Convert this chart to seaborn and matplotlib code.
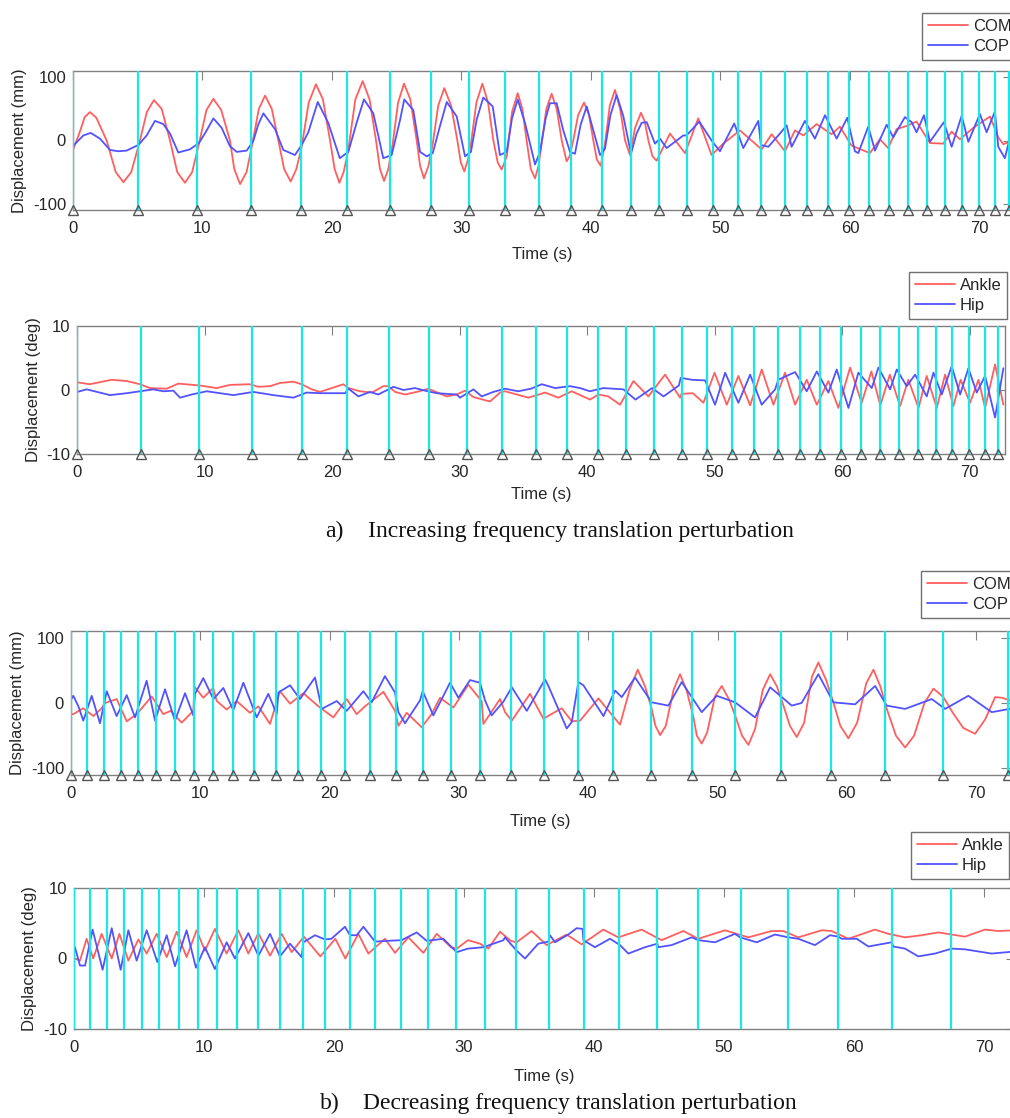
import numpy as np
import pandas as pd
import matplotlib
matplotlib.use("Agg")
import matplotlib.pyplot as plt
import seaborn as sns

# ---------------- data ----------------
# perturbation onsets (stems)
stems_inc = [0, 5.02, 9.58, 13.75, 17.61, 21.16, 24.48, 27.64, 30.58, 33.36, 35.98, 38.46,
             40.85, 43.09, 45.25, 47.41, 49.42, 51.35, 53.13, 54.98, 56.68, 58.30, 59.92,
             61.47, 63.01, 64.48, 65.95, 67.34, 68.65, 69.96, 71.20, 72.25]
stems_dec = [0, 1.26, 2.55, 3.84, 5.21, 6.57, 8.04, 9.51, 11.0, 12.55, 14.18, 15.83, 17.58,
             19.33, 21.21, 23.12, 25.13, 27.25, 29.41, 31.65, 34.03, 36.56, 39.19, 41.92,
             44.86, 48.0, 51.33, 54.91, 58.78, 62.95, 67.46, 72.44]

# a) increasing frequency - COM (mm)
com_a_t = [0.0, 0.5, 0.9, 1.31, 1.8, 2.6, 3.3, 3.89, 4.5, 5.17, 5.7, 6.25, 6.85, 7.49, 8.05, 8.65,
           9.2, 9.73, 10.3, 10.84, 11.45, 12.12, 12.45, 12.9, 13.4, 13.85, 14.35, 14.83, 15.35,
           15.86, 16.3, 16.81, 17.25, 17.66, 18.2, 18.76, 19.3, 19.85, 20.2, 20.57, 20.9, 21.26,
           21.8, 22.37, 22.9, 23.4, 23.7, 24.02, 24.35, 24.69, 25.1, 25.56, 26.05, 26.54, 26.8,
           27.1, 27.45, 27.78, 28.2, 28.67, 29.2, 29.68, 29.95, 30.22, 30.5, 30.73, 31.15, 31.61,
           32.05, 32.46, 32.8, 33.1, 33.5, 33.9, 34.34, 34.7, 35.03, 35.35, 35.68, 35.95, 36.19,
           36.55, 36.96, 37.35, 37.74, 38.12, 38.35, 38.63, 39.0, 39.46, 39.85, 40.18, 40.45,
           40.75, 41.08, 41.45, 41.85, 42.25, 42.63, 43.01, 43.4, 43.86, 44.15, 44.43, 44.75,
           45.07, 46.1, 47.26, 48.28, 49.31, 50.21, 51.5, 53.18, 53.95, 54.98, 55.75, 56.4,
           57.42, 58.58, 59.22, 60.12, 61.54, 62.31, 62.95, 63.6, 64.37, 65.14, 66.17, 67.2,
           67.85, 68.49, 69.52, 70.81, 71.45, 71.84, 72.5]
com_a_y = [-15, 12, 37, 45, 36, 0, -50, -66, -50, 0, 45, 64, 50, 0, -50, -67,
           -50, -5, 48, 66, 48, 0, -45, -69, -50, -5, 50, 71, 50,
           0, -45, -65, -45, -10, 60, 89, 65, 0, -45, -67, -50, -15,
           65, 94, 65, 0, -45, -64, -45, -5, 60, 90, 65, 0, -40,
           -60, -40, -5, 55, 83, 55, 0, -35, -49, -30, -5, 60, 90,
           60, 0, -35, -46, -25, 45, 75, 50, 0, -45, -60, -40, -5,
           50, 74, 50, 0, -33, -25, 0, 40, 60, 40, 0, -30,
           -40, -5, 55, 80, 50, 0, -23, 20, 44, 30, 0, -25,
           -32, 11, -20, 35, -23, -5, 16, -14, 10, -17, 16, 8,
           26, 10, 22, -8, -20, 2, -12, 18, 23, 30, -4, -5,
           14, 2, 20, 38, 5, -6, 0]

# a) increasing frequency - COP (mm)
cop_a_t = [0.08, 0.8, 1.37, 2.08, 2.86, 3.5, 4.14, 5.05, 5.69, 6.33, 6.97, 7.49, 8.13, 9.03, 9.73,
           10.27, 10.84, 11.48, 12.12, 12.64, 13.41, 13.92, 14.3, 14.7, 15.6, 16.24, 17.14, 17.66,
           18.17, 18.9, 19.71, 20.6, 21.26, 21.9, 22.47, 23.19, 23.96, 24.61, 25.25, 25.58, 26.28,
           26.8, 27.31, 27.78, 28.34, 28.86, 29.63, 30.27, 30.73, 31.17, 31.68, 32.41, 32.97,
           33.49, 33.9, 34.34, 34.9, 35.68, 36.06, 36.5, 36.83, 37.35, 37.86, 38.38, 38.76, 39.2,
           39.67, 40.18, 40.7, 41.08, 41.5, 41.98, 42.49, 43.09, 43.5, 43.91, 44.3, 44.94, 45.32,
           45.84, 47.13, 47.38, 48.36, 49.31, 49.96, 51.06, 51.76, 52.92, 53.12, 53.69, 54.59,
           55.11, 55.49, 56.52, 57.29, 58.07, 58.97, 59.79, 60.38, 60.64, 61.41, 61.93, 62.83,
           63.34, 64.24, 64.76, 65.14, 65.71, 66.17, 67.25, 67.85, 68.62, 69.14, 70.03, 70.55,
           71.19, 71.45, 71.96, 72.5]
cop_a_y = [-7, 8, 12, 3, -15, -17, -16, -7, 8, 31, 26, 11, -19, -14, -4,
           14, 35, 20, -9, -18, -16, -1, 25, 43, 18, -15, -23, -7,
           13, 61, 28, -28, -18, 28, 65, 43, -28, -23, 32, 65, 48,
           -18, -25, -20, 23, 61, 38, -25, -18, 33, 68, 54, -23,
           -18, 35, 65, 28, -38, -18, 35, 59, 59, 16, -18, -21, 25,
           54, 16, -23, -13, 40, 72, 39, -21, 10, 28, 29, -5, 3,
           -12, 8, 8, 30, 0, -17, 27, -12, 31, -7, -10, 11,
           24, -10, 31, 3, 40, 3, 36, -17, -20, 22, -16, 25,
           5, 37, 29, 13, 40, -2, 29, -10, 39, -2, 42, 13,
           46, -10, -28, 18]

# a) increasing frequency - Ankle / Hip (deg)
ank_a_t = [0.02, 1.0, 2.72, 3.9, 4.94, 5.72, 7.03, 7.95, 9.64, 10.95, 12.0, 13.57, 14.22, 15.14,
           15.92, 16.97, 17.62, 18.41, 19.06, 19.98, 20.89, 21.29, 22.2, 23.12, 24.03, 24.42,
           24.95, 25.73, 26.64, 27.56, 28.99, 29.78, 30.43, 31.09, 32.39, 33.18, 33.57, 35.4,
           36.71, 37.75, 38.8, 40.24, 40.89, 41.67, 42.59, 43.64, 44.81, 46.12, 47.3, 47.4, 48.3,
           49.13, 50.0, 50.96, 51.87, 52.79, 53.7, 54.62, 55.53, 56.32, 57.23, 58.02, 58.93,
           59.71, 60.63, 61.54, 62.3, 63.0, 63.75, 64.55, 65.2, 66.0, 66.64, 67.43, 68.08, 68.73,
           69.3, 70.04, 70.7, 71.22, 72.0, 72.65]
ank_a_y = [1.2, 0.9, 1.6, 1.4, 0.9, 0.3, 0.2, 1.0, 0.7, 0.3, 0.8, 0.9, 0.5, 0.6,
           1.1, 1.3, 0.9, 0.1, -0.3, 0.3, 0.9, 0.3, -0.2, -0.4, 0.6, 0.6,
           -0.3, -0.7, -0.3, 0.2, -1.0, -0.7, -0.1, -1.1, -1.8, -0.4, -0.2, -1.2,
           -0.4, -1.2, -0.2, -1.5, -0.7, -1.0, -2.3, 1.4, -1.0, 2.4, -1.2, -0.6, -0.5,
           -2.0, 2.7, -2.3, 2.2, -2.4, 3.2, -2.3, 2.7, -2.3, 1.6, -2.3, 1.4,
           -2.8, 3.5, -2.0, 2.9, -2.4, 2.4, -2.5, 1.6, -2.8, 2.2, -2.8, 2.4, -2.5,
           1.6, -2.0, 1.6, -2.8, 4.0, -2.3]
hip_a_t = [0.02, 0.76, 2.59, 3.9, 4.94, 5.99, 6.77, 7.56, 8.08, 9.0, 10.17, 12.26, 13.83, 15.4,
           16.97, 18.01, 19.06, 21.02, 21.29, 22.07, 22.98, 23.63, 24.82, 25.6, 26.51, 27.29,
           28.21, 29.78, 30.04, 31.09, 31.74, 32.65, 33.57, 34.6, 35.6, 36.45, 37.5, 38.66,
           39.45, 40.23, 41.28, 42.85, 43.8, 45.1, 46.0, 47.2, 47.35, 48.21, 49.26, 50.04, 50.83,
           51.87, 52.79, 53.7, 54.75, 55.0, 56.32, 57.23, 58.02, 58.93, 59.58, 60.5, 61.28,
           62.33, 62.85, 63.77, 64.29, 65.07, 65.73, 66.64, 67.17, 67.82, 68.6, 69.26, 69.91,
           70.56, 71.22, 72.0, 72.65]
hip_a_y = [-0.3, 0.1, -0.8, -0.5, -0.2, 0.1, -0.2, -0.1, -1.2, -0.7, -0.2, -0.8, -0.3, -0.8,
           -1.2, -0.4, -0.5, -0.5, 0.2, -1.0, -0.3, -0.7, 0.5, 0.0, 0.3, -0.1,
           -0.5, -0.7, -1.2, 0.1, -1.0, -0.3, 0.2, -0.2, 0.2, 0.9, 0.3, 0.6,
           0.3, -0.2, 0.3, 0.1, -1.5, 0.3, -1.0, 0.7, 1.9, 1.6, 1.5, -2.3, 2.7,
           -2.0, 2.4, -2.3, 0.1, 1.6, 2.8, -0.2, 2.9, -0.4, 3.2, -2.8, 2.7,
           0.3, 3.5, 0.1, 3.2, 0.6, 2.4, -1.0, 2.7, -0.7, 3.7, -0.7, 3.4,
           -0.4, 2.2, -4.3, 3.4]

# b) decreasing frequency - COM / COP (mm)
com_b_t = [0.0, 0.18, 0.95, 1.73, 2.37, 2.63, 3.53, 4.31, 5.08, 6.24, 7.14, 7.7, 8.56, 9.46, 9.55,
           10.23, 11.0, 11.27, 12.04, 12.81, 13.84, 14.49, 15.39, 16.16, 16.94, 17.97, 19.13,
           20.29, 21.32, 22.09, 22.74, 24.16, 25.06, 25.32, 25.96, 27.12, 27.89, 28.54, 29.57,
           30.73, 31.76, 31.89, 33.18, 33.57, 34.09, 35.5, 36.53, 37.95, 38.73, 39.37, 40.79,
           42.08, 42.46, 43.2, 43.83, 44.4, 44.91, 45.2, 45.56, 46.0, 46.6, 47.1, 47.6, 48.14,
           48.4, 48.78, 49.2, 49.8, 50.33, 50.9, 51.36, 51.9, 52.39, 52.9, 53.5, 54.07, 54.6,
           55.1, 55.6, 56.13, 56.7, 57.3, 57.8, 58.4, 58.96, 59.5, 60.12, 60.8, 61.5, 62.06,
           62.6, 63.09, 63.8, 64.51, 65.2, 66.0, 66.7, 67.47, 68.2, 69.0, 69.92, 70.7, 71.47,
           72.0, 72.6]
com_b_y = [-17, -17, -8, -20, -8, 0, 6, -28, -17, 10, -17, -12, -30, -12, 25,
           8, 23, 3, -10, 3, -15, -5, -32, 18, -1, 15, -5,
           -22, 6, -17, -5, 17, -12, -35, -15, -37, -17, 8, -7,
           28, 3, -32, 6, -14, -27, 14, -24, -8, -28, -27, 7,
           -24, -33, 20, 51, 25, -9, -35, -49, -35, 20, 44, 20, -22,
           -50, -62, -45, 10, 26, 5, -19, -50, -64, -40, 20, 44, 25,
           -4, -35, -52, -30, 40, 62, 35, 1, -35, -54, -30, 30, 51,
           25, -9, -50, -68, -50, 0, 22, 9, -15, -38, -47, -25, 9,
           8, 4]
cop_b_t = [0.0, 0.18, 0.57, 0.95, 1.6, 2.24, 2.76, 3.53, 4.31, 4.95, 5.85, 6.5, 7.27, 8.04, 8.82,
           9.46, 9.59, 10.23, 11.01, 11.78, 12.55, 13.33, 14.36, 15.26, 15.91, 16.04, 16.94,
           17.71, 18.87, 19.39, 20.55, 21.32, 22.61, 23.25, 24.28, 25.06, 25.32, 25.83, 26.99,
           27.2, 28.02, 28.93, 29.31, 29.96, 30.86, 31.63, 32.02, 32.53, 33.44, 34.09, 35.25,
           36.66, 36.92, 38.34, 38.73, 39.24, 39.63, 41.18, 42.08, 42.59, 43.62, 44.91, 46.2,
           47.23, 48.78, 49.94, 51.36, 52.9, 54.07, 54.97, 55.74, 56.5, 57.8, 58.96, 60.64,
           62.19, 63.09, 64.51, 66.57, 67.6, 69.4, 71.21, 72.6]
cop_b_y = [5, 11, -5, -27, 11, -31, 18, -20, 12, -22, 34, -27, 21, -27, 15,
           -19, 14, 38, 6, 23, -11, 31, -22, 14, -17, 16, 27,
           6, 39, -9, 3, -12, 18, 1, 41, 16, -14, -31, 4,
           18, -19, 16, 31, 8, 35, 31, 4, -19, 2, 24, -12,
           36, 26, -39, -29, 32, 27, -20, 19, 9, 39, 1, -4,
           32, -14, 11, 1, -22, 24, 9, -4, 0, 44, 1, -2,
           26, -4, -9, 6, -9, 11, -14, -9]

# b) decreasing frequency - Ankle / Hip (deg)
ank_b_t = [0.07, 0.46, 0.97, 1.48, 2.13, 2.9, 3.49, 4.18, 4.95, 5.59, 6.36, 7.13, 7.9, 8.66, 9.43,
           10.07, 10.84, 11.74, 12.64, 13.41, 14.18, 15.08, 15.97, 16.74, 17.68, 18.95, 20.1,
           20.87, 21.87, 22.64, 23.92, 24.69, 25.72, 26.87, 27.9, 29.0, 29.44, 30.3, 31.23, 31.87,
           32.77, 33.6, 34.05, 35.2, 36.36, 37.89, 39.05, 40.71, 41.87, 43.66, 45.2, 46.87,
           48.02, 50.07, 51.87, 53.66, 54.56, 55.71, 57.51, 58.28, 59.56, 61.6, 62.64, 63.92,
           65.2, 66.48, 67.51, 68.53, 70.07, 71.1, 72.4]
ank_b_y = [0.0, -0.3, 2.8, 0.0, 3.5, 0.0, 3.5, -0.3, 2.7, 0.7, 3.5, 0.2, 3.8, 0.2, 4.0,
           1.1, 4.2, 0.7, 4.0, 0.7, 3.6, 0.4, 3.5, 0.9, 3.1, 0.3, 2.8,
           0.0, 3.5, 0.7, 2.8, 0.8, 3.0, 0.8, 3.5, 1.6, 1.4, 2.6, 2.1, 1.4,
           3.8, 2.5, 2.3, 3.9, 1.9, 3.4, 2.0, 4.1, 3.0, 4.1, 2.6, 3.9,
           2.8, 4.0, 3.0, 3.9, 3.9, 3.0, 4.0, 3.9, 2.8, 4.1, 3.5, 3.0,
           3.3, 3.7, 3.4, 3.1, 4.1, 3.9, 4.0]
hip_b_t = [0.07, 0.46, 0.85, 1.43, 2.2, 2.9, 3.59, 4.18, 4.82, 5.59, 6.41, 7.13, 7.77, 8.66, 9.38,
           10.07, 10.84, 11.74, 12.38, 13.41, 14.18, 15.08, 15.84, 16.61, 17.51, 17.64, 18.54,
           19.3, 19.8, 20.84, 21.23, 21.74, 22.26, 22.9, 23.15, 24.1, 25.2, 26.36, 27.13, 28.41,
           29.43, 30.3, 31.49, 33.03, 33.15, 34.05, 34.69, 35.71, 36.5, 36.61, 37.0, 38.02,
           38.66, 39.12, 39.18, 40.07, 41.23, 42.0, 42.64, 43.92, 44.87, 44.94, 45.97, 47.51,
           48.02, 49.3, 50.84, 51.23, 52.51, 53.92, 54.95, 55.71, 56.99, 58.15, 58.79, 59.05,
           60.2, 61.1, 62.89, 63.02, 63.92, 64.94, 66.23, 67.51, 68.53, 69.56, 70.58, 72.4]
hip_b_y = [1.6, -1.0, -1.0, 4.1, -1.6, 4.3, -1.6, 4.0, -0.3, 4.0, -0.5, 3.3, -1.1, 4.0, -1.3,
           1.6, -1.5, 2.3, 0.0, 3.6, 0.4, 3.5, 0.3, 2.1, 0.2, 2.3, 3.3,
           2.7, 2.8, 4.5, 3.3, 3.3, 4.5, 3.0, 2.4, 2.5, 2.6, 3.7, 2.5, 2.8,
           0.9, 1.4, 1.6, 2.6, 3.0, 1.1, 0.0, 2.1, 2.4, 3.3, 2.3, 3.4,
           4.3, 4.2, 2.6, 1.6, 2.8, 1.9, 0.7, 1.6, 2.1, 1.6, 1.9, 3.0,
           2.6, 2.3, 3.5, 3.0, 2.3, 3.4, 3.0, 2.8, 1.9, 3.3, 3.1, 2.8,
           2.8, 1.7, 2.3, 1.7, 1.4, 0.3, 0.7, 1.4, 1.3, 1.0, 0.7, 1.0]

xticks = [0, 10, 20, 30, 40, 50, 60, 70]

# ---------------- style ----------------
sns.set_theme(style="white")
plt.rcParams['font.family'] = ['Liberation Sans', 'DejaVu Sans']

W, H = 1010, 1118
fig = plt.figure(figsize=(W / 100, H / 100), dpi=100)
fig.patch.set_facecolor('white')

RED = '#ff5f5f'
BLUE = '#5252ff'
CYAN = '#19e8e8'
GRAY = '#808080'
TXT = '#262626'


def rect(l, r, t, b):
    return [l / W, 1 - b / H, (r - l) / W, (b - t) / H]


panels = [
    dict(rect=rect(73, 1012, 71, 210), xmax=72.51, ylim=(-110, 110), yticks=[-100, 0, 100],
         ylabel='Displacement (mm)', stems=stems_inc, tri=True,
         s1=(com_a_t, com_a_y, 'COM'), s2=(cop_a_t, cop_a_y, 'COP'),
         leg=(922, 13), ylx=20, xlp=8),
    dict(rect=rect(77, 1005, 326, 454), xmax=72.78, ylim=(-10, 10), yticks=[-10, 0, 10],
         ylabel='Displacement (deg)', stems=stems_inc, tri=True,
         s1=(ank_a_t, ank_a_y, 'Ankle'), s2=(hip_a_t, hip_a_y, 'Hip'),
         leg=(909, 272), ylx=34, xlp=5),
    dict(rect=rect(71, 1010, 631, 775), xmax=72.62, ylim=(-110, 110), yticks=[-100, 0, 100],
         ylabel='Displacement (mm)', stems=stems_dec, tri=True,
         s1=(com_b_t, com_b_y, 'COM'), s2=(cop_b_t, cop_b_y, 'COP'),
         leg=(921, 571), ylx=18, xlp=9),
    dict(rect=rect(74, 1015, 888, 1029), xmax=72.38, ylim=(-10, 10), yticks=[-10, 0, 10],
         ylabel='Displacement (deg)', stems=stems_dec, tri=False,
         s1=(ank_b_t, ank_b_y, 'Ankle'), s2=(hip_b_t, hip_b_y, 'Hip'),
         leg=(911, 832), ylx=30, xlp=10),
]

for p in panels:
    ax = fig.add_axes(p['rect'])
    ax.set_facecolor('white')
    t1, y1, n1 = p['s1']
    t2, y2, n2 = p['s2']
    d1 = pd.DataFrame({'t': t1, 'v': y1})
    d2 = pd.DataFrame({'t': t2, 'v': y2})
    sns.lineplot(data=d1, x='t', y='v', ax=ax, color=RED, lw=1.3, sort=False,
                 estimator=None, label=n1, zorder=2)
    sns.lineplot(data=d2, x='t', y='v', ax=ax, color=BLUE, lw=1.3, sort=False,
                 estimator=None, label=n2, zorder=2)
    for s in p['stems']:
        ax.axvline(s, color=CYAN, lw=1.6, zorder=3)
    ax.set_xlim(0, p['xmax'])
    ax.set_ylim(*p['ylim'])
    if p['tri']:
        ax.plot(p['stems'], [p['ylim'][0]] * len(p['stems']), linestyle='none', marker='^',
                ms=7.5, mfc='none', mec='#555555', mew=1.0, clip_on=False, zorder=5)
    ax.set_xticks(xticks)
    ax.set_yticks(p['yticks'])
    ax.set_xticklabels([str(v) for v in xticks])
    ax.set_yticklabels([str(v) for v in p['yticks']])
    ax.tick_params(axis='both', which='both', direction='in', length=6.5, width=0.8,
                   color=GRAY, labelsize=12, labelcolor=TXT, top=True, right=True)
    ax.tick_params(axis='x', pad=8)
    ax.tick_params(axis='y', pad=5)
    for sp in ax.spines.values():
        sp.set_visible(True)
        sp.set_color(GRAY)
        sp.set_linewidth(1.0)
    ax.set_xlabel('Time (s)', fontsize=12, color=TXT, labelpad=p['xlp'])
    ax.set_ylabel(p['ylabel'], fontsize=12, color=TXT)
    l, b, w, h = p['rect']
    x_px_left = l * W
    ax.yaxis.set_label_coords((p['ylx'] + 7 - x_px_left) / (w * W), 0.5)
    handles, labels = ax.get_legend_handles_labels()
    lx, ly = p['leg']
    ax.legend(handles, labels, loc='upper left', bbox_to_anchor=(lx / W, 1 - ly / H),
              bbox_transform=fig.transFigure, frameon=True, fancybox=False,
              edgecolor='#707070', framealpha=1, fontsize=12, handlelength=2.4,
              handletextpad=0.3, borderpad=0.35, labelspacing=0.3, borderaxespad=0)
    ax.get_legend().get_frame().set_linewidth(1.0)

cap_font = ['Liberation Serif', 'DejaVu Serif']
CAP = 17
fig.text(325 / W, 1 - 531 / H, 'a)', fontsize=CAP, family=cap_font, va='center', ha='left',
         color='#111111')
fig.text(368 / W, 1 - 531 / H, 'Increasing frequency translation perturbation', fontsize=CAP,
         family=cap_font, va='center', ha='left', color='#111111')
fig.text(320 / W, 1 - 1103 / H, 'b)', fontsize=CAP, family=cap_font, va='center', ha='left',
         color='#111111')
fig.text(363 / W, 1 - 1103 / H, 'Decreasing frequency translation perturbation', fontsize=CAP,
         family=cap_font, va='center', ha='left', color='#111111')

fig.savefig('out.png', dpi=100, facecolor='white')
